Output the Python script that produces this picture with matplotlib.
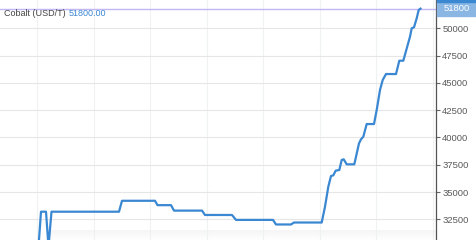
import numpy as np
import matplotlib
matplotlib.use("Agg")
import matplotlib.pyplot as plt

plt.rcParams["font.family"] = ["Liberation Sans", "DejaVu Sans"]

# price series (x = position along the time axis, y = USD/T)
t = [38.5, 41, 46, 48.5, 51.5, 119, 122, 155, 157.5, 171, 174, 202, 205, 232, 236,
     273, 276, 291, 294, 321.7, 325, 328.3, 331, 333.3, 335.7, 339.3, 341.7, 343.7,
     346.7, 354.3, 359, 361, 363.3, 366.7, 374, 376.7, 380, 382.7, 386, 396, 399.3,
     403.3, 410, 411.7, 414, 416.7, 418.7, 420.5]
price = [30000, 33200, 33200, 30000, 33200, 33200, 34200, 34200, 33800, 33800, 33300,
         33300, 32900, 32900, 32450, 32450, 32030, 32030, 32210, 32210, 33660, 35490,
         36470, 36530, 36960, 37020, 37940, 38000, 37540, 37540, 39460, 39830, 40070,
         41230, 41230, 42520, 44350, 45260, 45810, 45810, 47030, 47030, 49230, 50000,
         50090, 50920, 51680, 51800]

last = 51800
yticks = [32500, 35000, 37500, 40000, 42500, 45000, 47500, 50000]
xgrid = [37 + 56.5 * k for k in range(8)]

fig = plt.figure(figsize=(4.76, 2.4), dpi=100)
ax = fig.add_axes([0, 0, 436 / 476, 1])

ax.set_xlim(0, 436)
ax.set_ylim(30608, 52592)

# faint shading at the bottom
grad = np.linspace(0, 1, 50).reshape(-1, 1)
ax.imshow(grad, extent=[50, 436, 30608, 31500], aspect="auto", cmap="Greys",
          vmin=0, vmax=12, origin="lower", zorder=0, alpha=0.9)

ax.plot(t, price, color="#3a87d2", lw=1.6, solid_joinstyle="round", zorder=3)
ax.axhline(last, color="#c2b6f5", lw=1.0, zorder=2)

ax.set_yticks(yticks)
ax.set_xticks(xgrid)
ax.grid(axis="y", color="#e6e6e6", lw=0.8)
ax.grid(axis="x", color="#eef2f2", lw=0.8)
ax.set_axisbelow(True)

ax.yaxis.tick_right()
ax.tick_params(axis="y", direction="out", length=3, width=0.8, color="#666666",
               labelsize=6.8, labelcolor="#5a5a5a", pad=1.5)
ax.tick_params(axis="x", length=0, labelbottom=False)
for s in ["top", "left", "bottom"]:
    ax.spines[s].set_visible(False)
ax.spines["right"].set_color("#555555")
ax.spines["right"].set_linewidth(0.9)

# last value badge
fig.add_artist(plt.Rectangle((437 / 476, 224 / 240), 39 / 476, 16 / 240, color="#89b6e3",
                             transform=fig.transFigure, zorder=5))
fig.add_artist(plt.Rectangle((437 / 476, 238 / 240), 39 / 476, 2 / 240, color="#3a87d2",
                             transform=fig.transFigure, zorder=6))
fig.text(457 / 476, 1 - 8.5 / 240, "51800", ha="center", va="center", fontsize=6.8,
         color="white", zorder=7)

title = fig.text(4 / 476, 1 - 13 / 240, "Cobalt (USD/T)", fontsize=6.5, color="#444444",
                 va="center")
ax.annotate("51800.00", xy=(1, 0.5), xycoords=title, xytext=(2, 0),
            textcoords="offset points", fontsize=6.5, color="#3a87d2", va="center")

fig.savefig("out.png", dpi=100)
